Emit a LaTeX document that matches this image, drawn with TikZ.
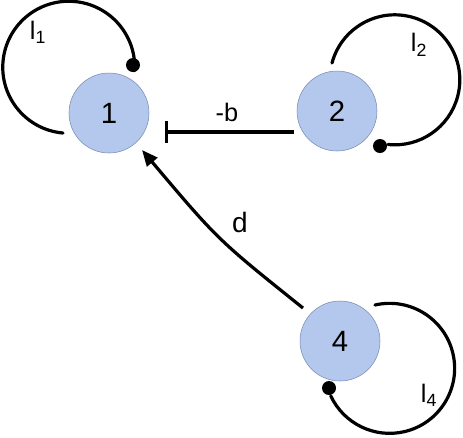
\documentclass[tikz,border=0pt]{standalone}
\usepackage{fontspec}
\setmainfont{Liberation Sans}
\usetikzlibrary{arrows.meta}
\definecolor{nodefill}{RGB}{180,199,236}
\definecolor{nodeedge}{RGB}{120,140,180}
\tikzset{
  state/.style={circle, fill=nodefill, draw=nodeedge, line width=0.4pt, minimum size=60pt, inner sep=0pt, font=\fontsize{22}{26}\selectfont},
  loopline/.style={line width=2.4pt, line cap=round},
  dotend/.style={circle, fill=black, minimum size=10.5pt, inner sep=0pt},
  lab/.style={font=\fontsize{19}{22}\selectfont, inner sep=0pt},
}
\begin{document}
\begin{tikzpicture}[x=0.75pt, y=-0.75pt]
\useasboundingbox (0,0) rectangle (463,437);
\node[state] (n1) at (109,113) {1};
\node[state] (n2) at (337,111) {2};
\node[state] (n4) at (340,341) {4};
% loop 1
\coordinate (l1s) at (63,133);
\draw[loopline] (l1s) arc[start angle=-265, end angle=3, radius=66] coordinate (l1e);
\node[dotend] (d1) at (133,65) {};
\node[lab] (t1) at (38,32) {l\textsubscript{1}};
% loop 2
\coordinate (l2s) at (332,63);
\draw[loopline] (l2s) arc[start angle=-165, end angle=96, radius=65] coordinate (l2e);
\node[dotend] (d2) at (380,146) {};
\node[lab] (t2) at (419,45) {l\textsubscript{2}};
% loop 4
\coordinate (l4s) at (375,305);
\draw[loopline] (l4s) arc[start angle=-103, end angle=155, radius=65] coordinate (l4e);
\node[dotend] (d4) at (329,388) {};
\node[lab] (t4) at (429,395) {l\textsubscript{4}};
% edge 2 -| 1
\coordinate (e2s) at (294,132);
\coordinate (e2e) at (165,132);
\draw[line width=2.4pt, -{Bar[width=16pt,line width=2.4pt]}] (e2s) -- (e2e);
\node[lab] (tb) at (227,112) {-b};
% edge 4 -> 1
\coordinate (e4s) at (303,308);
\coordinate (e4e) at (142,150);
\draw[line width=2.4pt, -{Triangle[length=12pt,width=10pt]}] (e4s) .. controls (218,240) .. (e4e);
\node[lab, font=\fontsize{21}{24}\selectfont] (td) at (240,222) {d};
\end{tikzpicture}
\end{document}
